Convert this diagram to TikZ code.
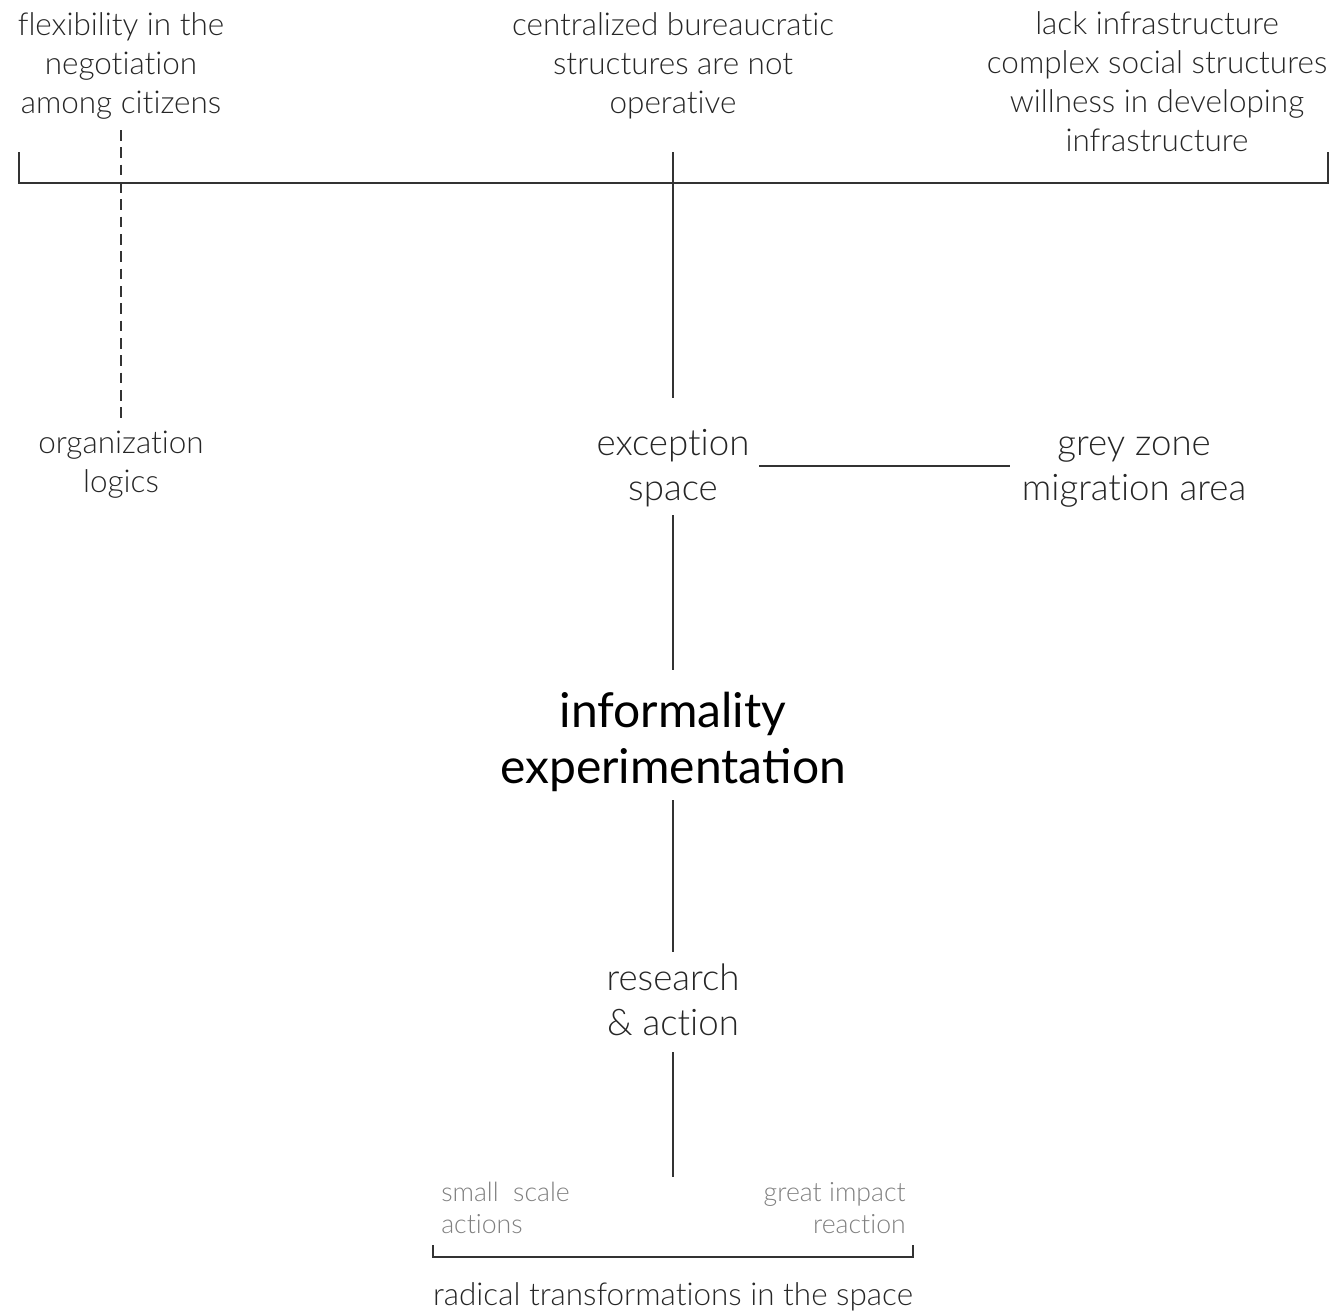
\documentclass[tikz,border=0pt]{standalone}
\usepackage{fontspec}
\setmainfont{Lato Light}[Ligatures=NoCommon]
\newfontfamily\latoreg{Lato}
\begin{document}
\begin{tikzpicture}[x=0.75pt,y=-0.75pt,
  txt/.style={anchor=base,align=center,inner sep=0pt,text=black!85},
  mid/.style={txt,font=\fontsize{23.6}{29.25}\selectfont},
  big/.style={txt,font=\fontsize{27.5}{33.75}\selectfont},
  huge/.style={txt,text=black,font=\latoreg\fontsize{36}{42}\selectfont},
  note/.style={anchor=base,inner sep=0pt,text=black!50,font=\fontsize{20}{24}\selectfont},
  rule/.style={draw=black!80,line width=0.9pt}]
\useasboundingbox (0,0) rectangle (1334,1315);

% top row of conditions (positions give the baseline of the last line)
\node[mid] (flex) at (121,113) {flexibility in the\\negotiation\\among citizens};
\node[mid] (central) at (673,113) {centralized bureaucratic\\structures are not\\operative};
\node[mid] (lack) at (1157,151) {lack infrastructure\\complex social structures\\willness in developing\\infrastructure};

% bracket collecting the conditions
\coordinate (bl) at (19,152);
\coordinate (br) at (1328,152);
\draw[rule] (bl) -- (19,183) -- (1328,183) -- (br);

% second row
\node[mid] (org) at (121,492) {organization\\logics};
\node[big] (exc) at (673,500) {exception\\space};
\node[big] (grey) at (1134,500) {grey zone\\migration area};

\coordinate (flexdown) at (121,130);
\coordinate (orgup) at (121,418);
\draw[rule,dash pattern=on 8pt off 5pt] (flexdown) -- (orgup);

\coordinate (centraldown) at (673,152);
\coordinate (excup) at (673,398);
\draw[rule] (centraldown) -- (excup);

\coordinate (excright) at (759,466);
\coordinate (greyleft) at (1010,466);
\draw[rule] (excright) -- (greyleft);

% core
\node[huge] (inf) at (673,783) {informality\\experimentation};
\coordinate (excdown) at (673,515);
\coordinate (infup) at (673,670);
\draw[rule] (excdown) -- (infup);

\node[big] (res) at (673,1035) {research\\\& action};
\coordinate (infdown) at (673,800);
\coordinate (resup) at (673,952);
\draw[rule] (infdown) -- (resup);

\coordinate (resdown) at (673,1052);
\coordinate (resend) at (673,1177);
\draw[rule] (resdown) -- (resend);

% outcome
\node[note,anchor=base west,align=left] (small) at (441,1233) {small\ \ scale\\actions};
\node[note,anchor=base east,align=right] (great) at (906,1233) {great impact\\reaction};

\coordinate (tl) at (433,1245);
\coordinate (tr) at (913,1245);
\draw[rule] (tl) -- (433,1257) -- (913,1257) -- (tr);

\node[mid] (rad) at (673,1305) {radical transformations in the space};
\end{tikzpicture}
\end{document}
